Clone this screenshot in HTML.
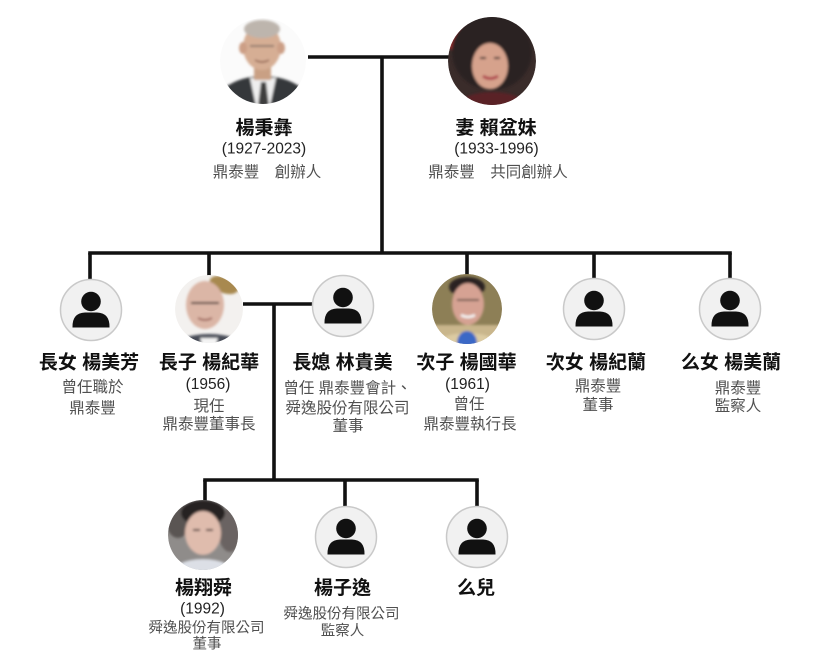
<!DOCTYPE html>
<html>
<head>
<meta charset="utf-8">
<style>
html,body{margin:0;padding:0;background:#fff;}
svg{display:block;}
text{font-family:"Liberation Sans","Noto Sans CJK TC",sans-serif;}
.n{font-size:19px;font-weight:bold;fill:#111;}
.y{font-size:15.5px;fill:#222;}
.s{font-size:15.5px;fill:#505050;}
.sb{font-size:14.5px;fill:#505050;}
</style>
</head>
<body>
<svg width="815" height="653" viewBox="0 0 815 653" xmlns="http://www.w3.org/2000/svg">
<defs>
  <clipPath id="c1"><circle cx="263" cy="61" r="43"/></clipPath>
  <clipPath id="c2"><circle cx="492" cy="61" r="44"/></clipPath>
  <clipPath id="c3"><circle cx="209" cy="309" r="34"/></clipPath>
  <clipPath id="c4"><circle cx="467" cy="309" r="35"/></clipPath>
  <clipPath id="c5"><circle cx="203" cy="535" r="35"/></clipPath>
  <filter id="bl"><feGaussianBlur stdDeviation="1.2"/></filter>
  <g id="person">
    <circle cx="0" cy="0" r="30.5" fill="#f1f1f1" stroke="#c9c9c9" stroke-width="1.5"/>
    <circle cx="0" cy="-8.5" r="9.8" fill="#111"/>
    <path d="M-18.5 17.5 Q-19 3 -6 2.5 L6 2.5 Q19 3 18.5 17.5 Z" fill="#111"/>
  </g>
</defs>

<!-- connectors -->
<g stroke="#111" stroke-width="3.6" fill="none" stroke-linecap="butt">
  <path d="M308 57 H452"/>
  <path d="M382 57 V253"/>
  <path d="M88.2 253 H731.8"/>
  <path d="M90 253 V280"/>
  <path d="M209 253 V276"/>
  <path d="M467 253 V275"/>
  <path d="M594 253 V279"/>
  <path d="M730 253 V279"/>
  <path d="M243 304 H314"/>
  <path d="M274 304 V480"/>
  <path d="M203.2 480 H478.8"/>
  <path d="M205 480 V502"/>
  <path d="M345 480 V507"/>
  <path d="M477 480 V507"/>
</g>

<!-- Grandfather photo -->
<g clip-path="url(#c1)">
  <circle cx="263" cy="61" r="43" fill="#fbfbfb"/>
  <g filter="url(#bl)">
    <ellipse cx="263" cy="112" rx="52" ry="36" fill="#36373a"/>
    <path d="M250 78 L276 78 L270 106 L256 106 Z" fill="#eeeeee"/>
    <path d="M261 82 L266 82 L269 106 L258 106 Z" fill="#3c3c3e"/>
    <rect x="254" y="62" width="17" height="18" fill="#c9a084"/>
    <ellipse cx="262" cy="47" rx="19" ry="23" fill="#d6ae94"/>
    <ellipse cx="243" cy="48" rx="4" ry="6" fill="#cc9f86"/>
    <ellipse cx="281" cy="48" rx="4" ry="6" fill="#cc9f86"/>
    <ellipse cx="262" cy="29" rx="18" ry="9" fill="#bdb5ad"/>
    <path d="M250 46 H274" stroke="#7a6a60" stroke-width="1.5"/>
    <path d="M255 60 Q262 64 269 60" stroke="#8a5a4a" stroke-width="1.5" fill="none"/>
  </g>
</g>

<!-- Wife photo -->
<g clip-path="url(#c2)">
  <circle cx="492" cy="61" r="44" fill="#3a2c2a"/>
  <g filter="url(#bl)">
    <ellipse cx="460" cy="35" rx="20" ry="16" fill="#8a2a2c"/>
    <ellipse cx="492" cy="52" rx="40" ry="38" fill="#2b2224"/>
    <ellipse cx="490" cy="66" rx="18" ry="23" fill="#d6a28c"/>
    <ellipse cx="492" cy="106" rx="34" ry="14" fill="#5a2228"/>
    <path d="M483 76 Q490 81 498 76" stroke="#b04a50" stroke-width="3" fill="none"/>
    <path d="M480 58 H486 M494 58 H500" stroke="#3a2a2a" stroke-width="2"/>
  </g>
</g>

<!-- Eldest son photo -->
<g clip-path="url(#c3)">
  <circle cx="209" cy="309" r="34" fill="#f3f1ef"/>
  <g filter="url(#bl)">
    <ellipse cx="224" cy="285" rx="15" ry="8" fill="#a8894f" transform="rotate(20 224 285)"/>
    <ellipse cx="209" cy="350" rx="38" ry="16" fill="#464b56"/>
    <path d="M200 338 L218 338 L214 350 L204 350 Z" fill="#f4f4f4"/>
    <ellipse cx="205" cy="305" rx="19" ry="24" fill="#dbb6a6"/>
    <path d="M191 303 H219" stroke="#4a3a36" stroke-width="2"/>
    <path d="M198 318 Q205 322 212 318" stroke="#a06a60" stroke-width="2" fill="none"/>
  </g>
</g>

<!-- Second son photo -->
<g clip-path="url(#c4)">
  <circle cx="467" cy="309" r="35" fill="#8d7f56"/>
  <g filter="url(#bl)">
    <rect x="432" y="325" width="70" height="20" fill="#c9b68c"/>
    <ellipse cx="467" cy="350" rx="36" ry="17" fill="#dccba2"/>
    <ellipse cx="467" cy="343" rx="10" ry="12" fill="#3a68c6"/>
    <ellipse cx="467" cy="287" rx="18" ry="10" fill="#2a2420"/>
    <ellipse cx="468" cy="304" rx="16" ry="21" fill="#d6a293"/>
    <path d="M457 300 H479" stroke="#4a3a36" stroke-width="1.5"/>
    <path d="M461 315 Q468 319 475 315" stroke="#f4f4f4" stroke-width="2.5" fill="none"/>
  </g>
</g>

<!-- Grandson photo -->
<g clip-path="url(#c5)">
  <circle cx="203" cy="535" r="35" fill="#8f8c8a"/>
  <g filter="url(#bl)">
    <ellipse cx="178" cy="520" rx="12" ry="18" fill="#5a5452"/>
    <ellipse cx="230" cy="530" rx="12" ry="22" fill="#6a6462"/>
    <ellipse cx="203" cy="574" rx="32" ry="15" fill="#dcdfe6"/>
    <ellipse cx="203" cy="513" rx="22" ry="13" fill="#262424"/>
    <ellipse cx="203" cy="533" rx="18" ry="22" fill="#dfbcad"/>
    <path d="M193 530 H200 M206 530 H213" stroke="#3a2c2a" stroke-width="1.8"/>
  </g>
</g>

<!-- generic persons -->
<use href="#person" x="91" y="310"/>
<use href="#person" x="343" y="306"/>
<use href="#person" x="594" y="309"/>
<use href="#person" x="730" y="309"/>
<use href="#person" x="346" y="537"/>
<use href="#person" x="477" y="537"/>

<!-- texts -->
<g text-anchor="middle">
  <text class="n" x="264" y="134">楊秉彝</text>
  <text class="y" x="264" y="153.5">(1927-2023)</text>
  <text class="s" x="267" y="177">鼎泰豐　創辦人</text>

  <text class="n" x="496" y="134">妻 賴盆妹</text>
  <text class="y" x="496.5" y="153.5">(1933-1996)</text>
  <text class="s" x="498" y="177">鼎泰豐　共同創辦人</text>

  <text class="n" x="89" y="368.5">長女 楊美芳</text>
  <text class="s" x="92.5" y="392">曾任職於</text>
  <text class="s" x="92.5" y="413">鼎泰豐</text>

  <text class="n" x="209" y="368.5">長子 楊紀華</text>
  <text class="y" x="208" y="389">(1956)</text>
  <text class="s" x="209" y="411">現任</text>
  <text class="s" x="209" y="429">鼎泰豐董事長</text>

  <text class="n" x="342.5" y="368.5">長媳 林貴美</text>
  <text class="s" x="347.5" y="393">曾任 鼎泰豐會計、</text>
  <text class="s" x="347.5" y="413">舜逸股份有限公司</text>
  <text class="s" x="348" y="431">董事</text>

  <text class="n" x="466.5" y="368.5">次子 楊國華</text>
  <text class="y" x="467.5" y="389">(1961)</text>
  <text class="s" x="469" y="409">曾任</text>
  <text class="s" x="470" y="429">鼎泰豐執行長</text>

  <text class="n" x="596" y="368.5">次女 楊紀蘭</text>
  <text class="s" x="598" y="391">鼎泰豐</text>
  <text class="s" x="598" y="410">董事</text>

  <text class="n" x="731" y="368.5">么女 楊美蘭</text>
  <text class="s" x="738" y="393">鼎泰豐</text>
  <text class="s" x="738" y="411">監察人</text>

  <text class="n" x="203.5" y="594">楊翔舜</text>
  <text class="y" x="202.5" y="613.5">(1992)</text>
  <text class="sb" x="206.5" y="632.5">舜逸股份有限公司</text>
  <text class="sb" x="207" y="648.5">董事</text>

  <text class="n" x="342.5" y="594">楊子逸</text>
  <text class="sb" x="341.5" y="618.5">舜逸股份有限公司</text>
  <text class="sb" x="342.5" y="635.5">監察人</text>

  <text class="n" x="476" y="594">么兒</text>
</g>
</svg>
</body>
</html>
